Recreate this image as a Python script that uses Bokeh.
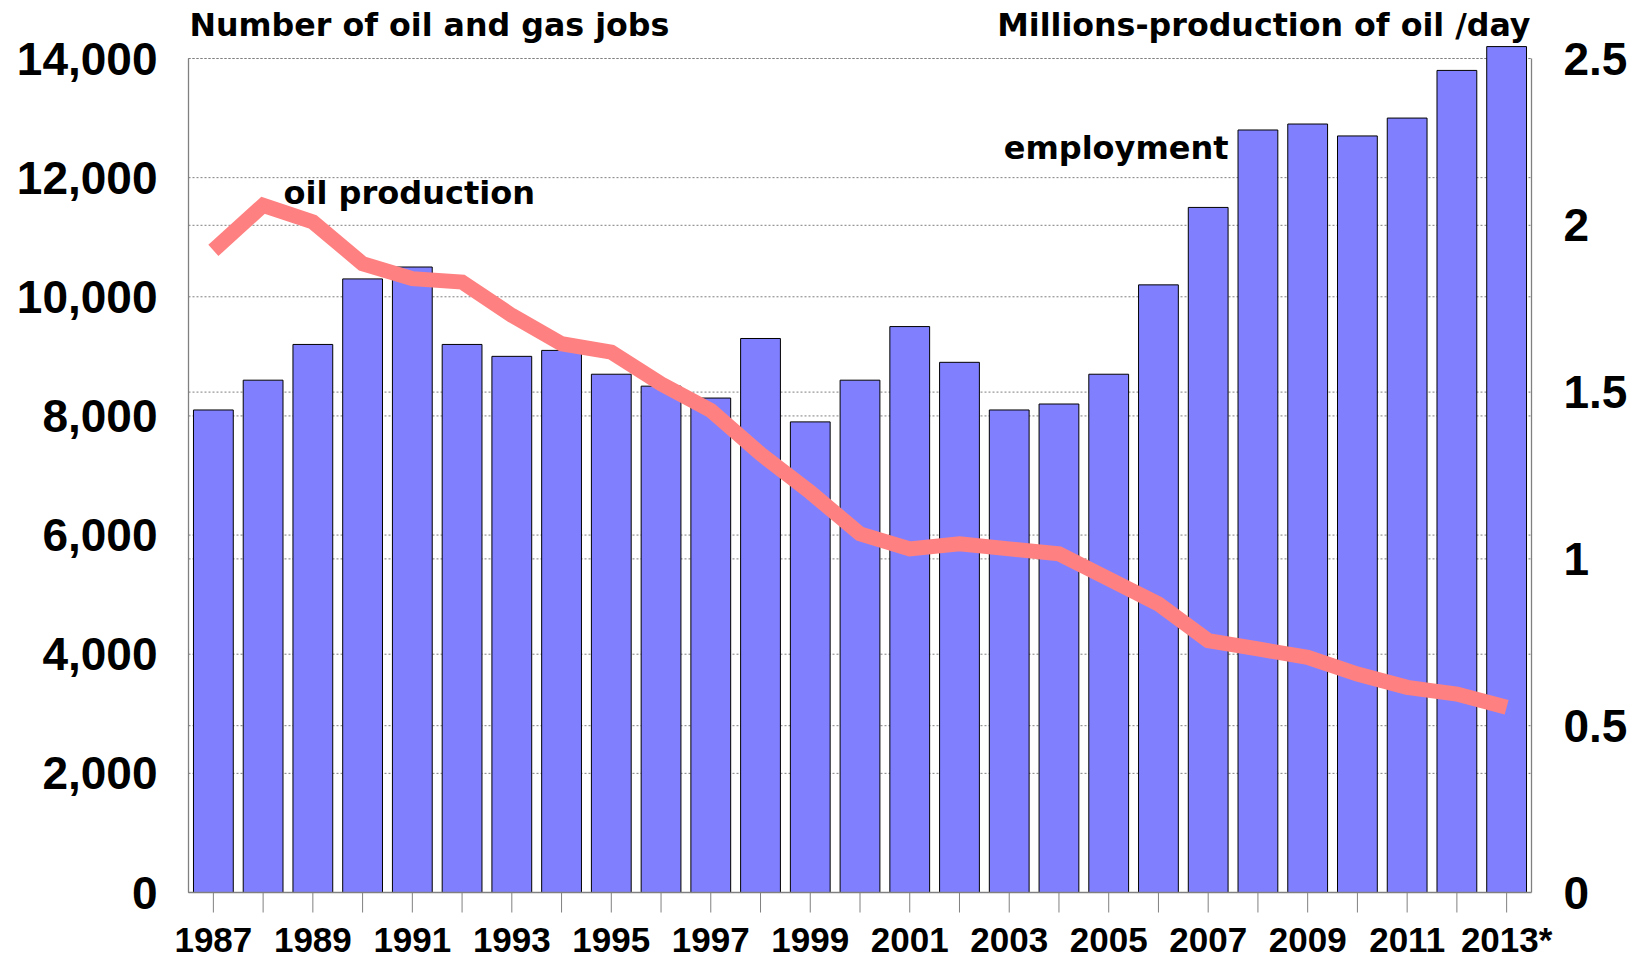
from bokeh.plotting import figure
from bokeh.models import (Range1d, LinearAxis, FixedTicker, NumeralTickFormatter,
                          Label, ColumnDataSource)
from bokeh.core.properties import value
from bokeh.embed import file_html
from bokeh.resources import INLINE

# ---- data ----
years = list(range(1987, 2014))
year_labels = ["1987", "", "1989", "", "1991", "", "1993", "", "1995", "", "1997", "",
               "1999", "", "2001", "", "2003", "", "2005", "", "2007", "", "2009", "",
               "2011", "", "2013*"]
employment = [8100, 8600, 9200, 10300, 10500, 9200, 9000, 9100, 8700, 8500, 8300, 9300,
              7900, 8600, 9500, 8900, 8100, 8200, 8700, 10200, 11500, 12800, 12900,
              12700, 13000, 13800, 14200]
oil_production = [1.925, 2.06, 2.01, 1.885, 1.84, 1.83, 1.73, 1.645, 1.62, 1.525, 1.445,
                  1.315, 1.2, 1.075, 1.03, 1.045, 1.03, 1.015, 0.94, 0.865, 0.755, 0.73,
                  0.705, 0.655, 0.615, 0.595, 0.555]
left_ticks = [0, 2000, 4000, 6000, 8000, 10000, 12000, 14000]
right_ticks = [0, 0.5, 1, 1.5, 2, 2.5]
left_title = "Number of oil and gas jobs"
right_title = "Millions-production of oil /day"
line_label = "oil production"
bar_label = "employment"

# ---- layout (pixels) ----
W, H = 1636, 960
PLOT_LEFT, PLOT_RIGHT = 188, 1531      # bordered chart area
FRAME_LEFT, FRAME_RIGHT = 160, 1560    # bokeh frame (a bit wider, room for year labels)
FRAME_TOP = 2
Y0_PX, YMAX_PX = 892, 58               # pixel rows of 0 and of the top tick
LEFT_MAX = 14000
RIGHT_MAX = 2.5
R_SCALE = RIGHT_MAX / LEFT_MAX
ppu = (Y0_PX - YMAX_PX) / LEFT_MAX     # pixels per job
Y_END = LEFT_MAX + (YMAX_PX - FRAME_TOP) / ppu
Y_START = -(H - Y0_PX) / ppu
x_lo, x_hi = years[0] - 0.5, years[-1] + 0.5
ppx = (PLOT_RIGHT - PLOT_LEFT) / (x_hi - x_lo)
X_START = x_lo - (PLOT_LEFT - FRAME_LEFT) / ppx
X_END = x_hi + (FRAME_RIGHT - PLOT_RIGHT) / ppx
TXT_SHIFT = 12                          # svg text sits a little low; lift it


def y_at(px):
    """data value (left axis) for a pixel row"""
    return (Y0_PX - px) / ppu


p = figure(width=W, height=H, output_backend="svg", toolbar_location=None,
           title=None, x_axis_location=None,
           x_range=Range1d(X_START, X_END),
           y_range=Range1d(Y_START, Y_END),
           min_border_left=FRAME_LEFT, min_border_right=W - FRAME_RIGHT,
           min_border_top=FRAME_TOP, min_border_bottom=0)
p.outline_line_color = None
p.background_fill_color = "white"
p.border_fill_color = "white"
p.extra_y_ranges = {"right": Range1d(Y_START * R_SCALE, Y_END * R_SCALE)}
p.xgrid.visible = False
p.ygrid.visible = False

src = ColumnDataSource(dict(year=years, emp=employment, oil=oil_production,
                            lab=year_labels))

# dashed grid lines at both axes' ticks, limited to the chart area
grid_vals = left_ticks + [v / R_SCALE for v in right_ticks]
p.segment(x0=x_lo, x1=x_hi, y0=grid_vals, y1=grid_vals,
          line_color="#7f7f7f", line_dash="2 2", line_width=1)

p.vbar(x="year", top="emp", bottom=0, width=0.8, source=src,
       fill_color="#8080FF", line_color="#000000", line_width=1)

# chart borders (sides up to the top tick) and base line
p.segment(x0=[x_lo, x_hi], x1=[x_lo, x_hi], y0=[0, 0], y1=[LEFT_MAX, LEFT_MAX],
          line_color="#808080", line_width=1.3)
p.segment(x0=[x_lo], x1=[x_hi], y0=[0], y1=[0], line_color="#808080", line_width=1.5)

# category ticks below the base line
p.segment(x0="year", x1="year", y0=0, y1=y_at(Y0_PX + 20), source=src,
          line_color="#808080", line_width=1)

# year labels
p.text(x="year", y=y_at(951 - TXT_SHIFT), text="lab", source=src,
       text_font=value("Liberation Sans"), text_font_style="bold",
       text_font_size="35px", text_color="black",
       text_align="center", text_baseline="alphabetic")

p.line(x="year", y="oil", source=src, y_range_name="right",
       line_color="#FF8080", line_width=15, line_join="miter", line_cap="butt")

# ---- axes ----
FONT = "Liberation Sans"
ya = p.yaxis[0]
ya.ticker = FixedTicker(ticks=left_ticks)
ya.formatter = NumeralTickFormatter(format="0,0")
ya.major_tick_out = 0
ya.major_tick_in = 0
ya.minor_tick_out = 0
ya.minor_tick_in = 0
ya.axis_line_color = None
ya.major_label_standoff = 31 - (PLOT_LEFT - FRAME_LEFT)
ya.major_label_text_font = FONT
ya.major_label_text_font_style = "bold"
ya.major_label_text_font_size = "46px"
ya.major_label_text_color = "black"

ra = LinearAxis(y_range_name="right")
ra.ticker = FixedTicker(ticks=right_ticks)
ra.formatter = NumeralTickFormatter(format="0.[0]")
ra.major_tick_out = 0
ra.major_tick_in = 0
ra.minor_tick_out = 0
ra.minor_tick_in = 0
ra.axis_line_color = None
ra.major_label_standoff = 32 - (FRAME_RIGHT - PLOT_RIGHT)
ra.major_label_text_font = FONT
ra.major_label_text_font_style = "bold"
ra.major_label_text_font_size = "46px"
ra.major_label_text_color = "black"
p.add_layout(ra, "right")

# ---- annotations ----
TFONT = "DejaVu Sans"
title_y = y_at(36 - TXT_SHIFT)
p.add_layout(Label(x=x_lo, y=title_y, x_offset=1, text=left_title,
                   text_font=TFONT, text_font_style="bold", text_font_size="31.7px",
                   text_color="black", text_align="left", text_baseline="alphabetic"))
p.add_layout(Label(x=x_hi, y=title_y, x_offset=-1, text=right_title,
                   text_font=TFONT, text_font_style="bold", text_font_size="31.7px",
                   text_color="black", text_align="right", text_baseline="alphabetic"))
p.add_layout(Label(x=1988.41, y=y_at(203 - 10.5), text=line_label,
                   text_font=TFONT, text_font_style="bold", text_font_size="32px",
                   text_color="black", text_align="left", text_baseline="alphabetic"))
p.add_layout(Label(x=2007.41, y=y_at(160 - 13), text=bar_label,
                   text_font=TFONT, text_font_style="bold", text_font_size="32px",
                   text_color="black", text_align="right", text_baseline="alphabetic"))

open("out.html", "w").write(file_html(p, INLINE))
